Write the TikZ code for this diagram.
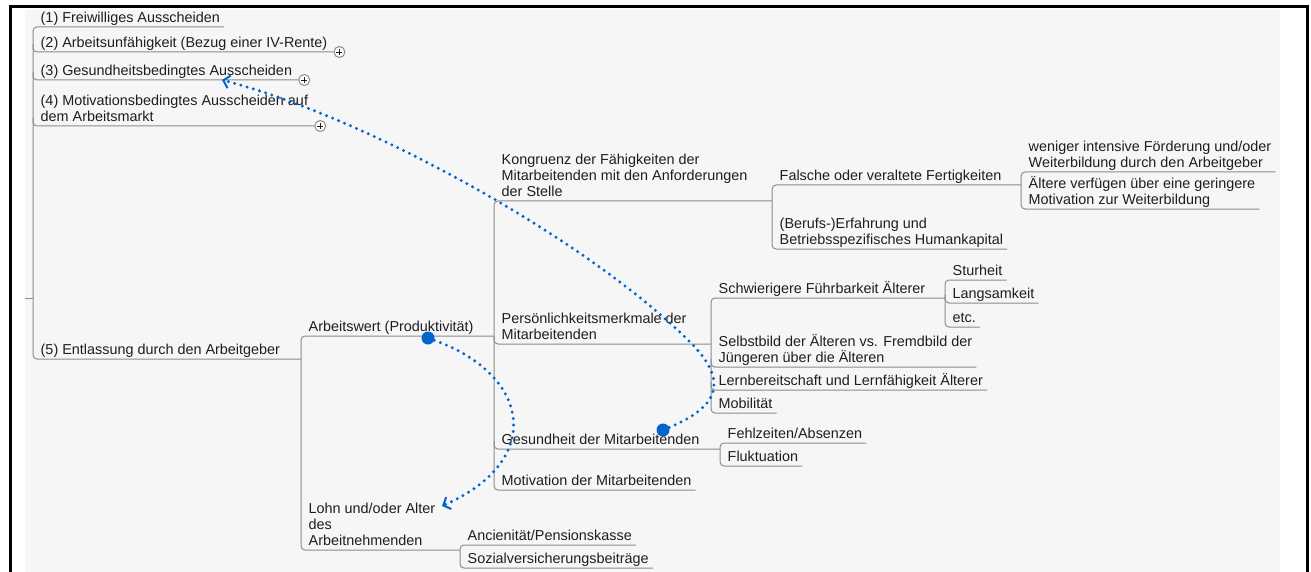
\documentclass[tikz,border=0pt]{standalone}
\usepackage{fontspec}
\setmainfont{Liberation Sans}
\usetikzlibrary{arrows.meta}

\definecolor{sfondo}{RGB}{246,246,246}
\definecolor{linea}{RGB}{140,140,140}
\definecolor{testo}{RGB}{30,30,30}
\definecolor{blu}{RGB}{0,102,204}

\begin{document}
\begin{tikzpicture}[x=1pt, y=-1pt,
    topic/.style = {anchor=south west, inner xsep=0pt, inner ysep=4.5pt, text depth=0pt, align=left, text=testo, font=\fontsize{14.4}{16}\selectfont},
    branch/.style = {draw=linea, line width=1pt, rounded corners=4pt},
    expand/.style = {circle, draw=linea, fill=white, minimum size=11pt, inner sep=0pt, line width=1pt,
        path picture={\draw[testo, line width=0.9pt] ([xshift=-3pt]path picture bounding box.center) -- ([xshift=3pt]path picture bounding box.center)
            ([yshift=-3pt]path picture bounding box.center) -- ([yshift=3pt]path picture bounding box.center);}},
    knob/.style = {circle, fill=blu, minimum size=13pt, inner sep=0pt},
    link/.style = {blu, line width=3.3pt, line cap=round, dash pattern=on 0pt off 6.5pt, -{Straight Barb[length=6pt, width=13pt, line width=2pt]}}]
    \useasboundingbox (0,0) rectangle (1311,572);
    \fill[sfondo] (25,10) rectangle (1280,572);
    \draw[line width=3pt] (10,572) -- (10,7) -- (1307,7) -- (1307,572);

    % Disegna i nodi
    \node[topic] (n1) at (40.5,27) {(1) Freiwilliges Ausscheiden};
    \node[topic] (n2) at (40.5,52) {(2) Arbeitsunfähigkeit (Bezug einer IV-Rente)};
    \node[topic] (n3) at (40.5,80) {(3) Gesundheitsbedingtes Ausscheiden};
    \node[topic] (n4) at (40.5,126) {(4) Motivationsbedingtes Ausscheiden auf\\dem Arbeitsmarkt};
    \node[topic] (n5) at (40.5,359) {(5) Entlassung durch den Arbeitgeber};

    \node[topic] (arbeitswert) at (308.5,336) {Arbeitswert (Produktivität)};
    \node[topic] (lohn) at (308.5,550) {Lohn und/oder Alter\\des\\Arbeitnehmenden};
    \node[topic] (ancien) at (467.5,545) {Ancienität/Pensionskasse};
    \node[topic] (sozial) at (467.5,568) {Sozialversicherungsbeiträge};

    \node[topic] (kongruenz) at (501.5,201) {Kongruenz der Fähigkeiten der\\Mitarbeitenden mit den Anforderungen\\der Stelle};
    \node[topic] (persoen) at (501.5,344) {Persönlichkeitsmerkmale der\\Mitarbeitenden};
    \node[topic] (gesund) at (501.5,449) {Gesundheit der Mitarbeitenden};
    \node[topic] (motiv) at (501.5,490) {Motivation der Mitarbeitenden};

    \node[topic] (falsche) at (779.5,185) {Falsche oder veraltete Fertigkeiten};
    \node[topic] (berufs) at (779.5,249) {(Berufs-)Erfahrung und\\Betriebsspezifisches Humankapital};
    \node[topic] (weniger) at (1028.5,172) {weniger intensive Förderung und/oder\\Weiterbildung durch den Arbeitgeber};
    \node[topic] (aeltere) at (1028.5,209) {Ältere verfügen über eine geringere\\Motivation zur Weiterbildung};

    \node[topic] (schwierig) at (718.5,298) {Schwierigere Führbarkeit Älterer};
    \node[topic] (selbst) at (718.5,367) {Selbstbild der Älteren vs. Fremdbild der\\Jüngeren über die Älteren};
    \node[topic] (lern) at (718.5,390) {Lernbereitschaft und Lernfähigkeit Älterer};
    \node[topic] (mobil) at (718.5,413) {Mobilität};
    \node[topic] (sturheit) at (952.5,280) {Sturheit};
    \node[topic] (langsam) at (952.5,303) {Langsamkeit};
    \node[topic] (etc) at (952.5,327) {etc.};

    \node[topic] (fehl) at (727.5,443) {Fehlzeiten/Absenzen};
    \node[topic] (flukt) at (727.5,466) {Fluktuation};

    \node[expand] (p2) at ([xshift=12pt]n2.south east) {};
    \node[expand] (p3) at ([xshift=12pt]n3.south east) {};
    \node[expand] (p4) at ([xshift=12pt]n4.south east) {};

    % Rami
    \coordinate (radice) at (25,298);
    \coordinate (b0) at ([xshift=-7.5pt]n1.south west);
    \coordinate (b5) at ([xshift=-7.5pt]arbeitswert.south west);
    \coordinate (bl) at ([xshift=-7.5pt]ancien.south west);
    \coordinate (ba) at ([xshift=-7.5pt]kongruenz.south west);
    \coordinate (bk) at ([xshift=-7.5pt]falsche.south west);
    \coordinate (bf) at ([xshift=-7.5pt]weniger.south west);
    \coordinate (bp) at ([xshift=-7.5pt]schwierig.south west);
    \coordinate (bs) at ([xshift=-7.5pt]sturheit.south west);
    \coordinate (bg) at ([xshift=-7.5pt]fehl.south west);

    \draw[branch] (radice) -- (b0 |- radice);
    \draw[branch] ([xshift=4pt]n1.south east) -- (b0) -- (b0 |- n5.south) -- (b5 |- n5.south);
    \foreach \n/\p in {n2/p2, n3/p3, n4/p4}
        \draw[branch] (b0 |- \n.south) ++(0,-8) |- (\p.west);

    \draw[branch] (ba |- arbeitswert.south) -- (b5) -- (b5 |- lohn.south) -- (bl |- lohn.south);
    \draw[branch] ([xshift=4pt]ancien.south east) -- (bl) -- (bl |- sozial.south) -- ([xshift=4pt]sozial.south east);

    \draw[branch] (bk |- kongruenz.south) -- (ba) -- (ba |- motiv.south) -- ([xshift=4pt]motiv.south east);
    \draw[branch] (ba |- persoen.south) ++(0,-8) |- (bp |- persoen.south);
    \draw[branch] (ba |- gesund.south) ++(0,-8) |- (bg |- gesund.south);

    \draw[branch] (bf |- falsche.south) -- (bk) -- (bk |- berufs.south) -- ([xshift=4pt]berufs.south east);
    \draw[branch] ([xshift=4pt]weniger.south east) -- (bf) -- (bf |- aeltere.south) -- ([xshift=4pt]aeltere.south east);

    \draw[branch] (bs |- schwierig.south) -- (bp) -- (bp |- mobil.south) -- ([xshift=4pt]mobil.south east);
    \foreach \n in {selbst, lern}
        \draw[branch] (bp |- \n.south) ++(0,-8) |- ([xshift=4pt]\n.south east);
    \draw[branch] ([xshift=4pt]sturheit.south east) -- (bs) -- (bs |- etc.south) -- ([xshift=4pt]etc.south east);
    \draw[branch] (bs |- langsam.south) ++(0,-8) |- ([xshift=4pt]langsam.south east);

    \draw[branch] ([xshift=4pt]fehl.south east) -- (bg) -- (bg |- flukt.south) -- ([xshift=4pt]flukt.south east);

    % Collegamenti
    \node[knob] (k1) at (663,430) {};
    \node[knob] (k2) at (428,338) {};
    \coordinate (t1) at (222,80);
    \coordinate (t2) at (442,506);
    \draw[link] (k1) .. controls (718,407) and (730,382) .. (690,342) .. controls (590,242) and (372,119) .. (t1);
    \draw[link] (k2) .. controls (531,375) and (545,461) .. (t2);

\end{tikzpicture}
\end{document}
